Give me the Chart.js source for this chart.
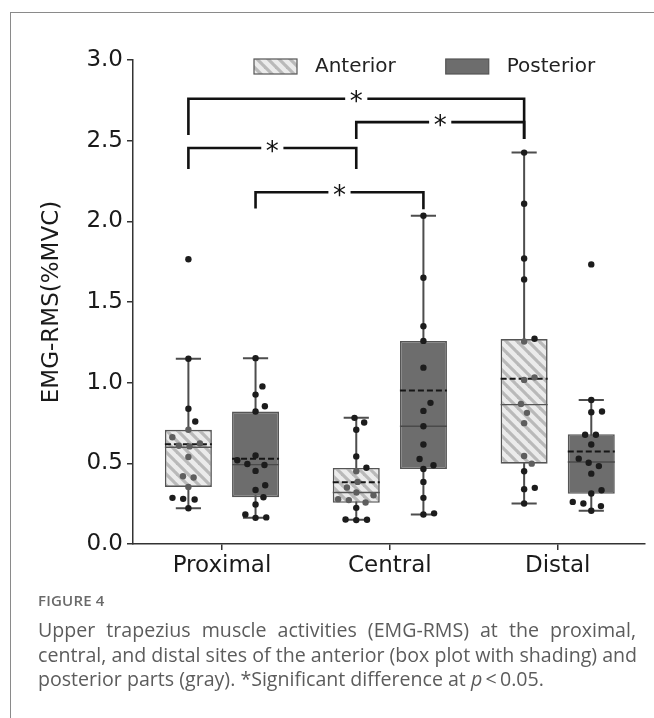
<!DOCTYPE html>
<html>
<head>
<meta charset="utf-8">
<script src="https://cdn.jsdelivr.net/npm/chart.js@4.4.0/dist/chart.umd.min.js"></script>
<style>
  body { margin: 0; width: 654px; height: 718px; overflow: hidden; position: relative; background: #fff; }
  #frame { position: absolute; left: 10px; top: 12px; width: 660px; height: 720px;
           border-left: 1.5px solid #8a8a8a; border-top: 1.5px solid #8a8a8a; }
  #wrap { position: absolute; left: 0; top: 0; width: 654px; height: 592px; }
  .cap { position: absolute; left: 38px; width: 598px; font-family: "Open Sans", sans-serif; color: #5c5c5c; }
  #figlabel { top: 590px; font-size: 15px; font-weight: 600; color: #6a6a6a; letter-spacing: 0.2px; }
  #caption { top: 618px; font-size: 19.6px; line-height: 24.5px; }
  #caption div { white-space: nowrap; }
  .j { text-align: justify; text-align-last: justify; }
</style>
</head>
<body>
<div id="frame"></div>
<div id="wrap"><canvas id="myChart"></canvas></div>
<div class="cap" id="figlabel">FIGURE 4</div>
<div class="cap" id="caption">
  <div class="j">Upper trapezius muscle activities (EMG-RMS) at the proximal,</div>
  <div class="j">central, and distal sites of the anterior (box plot with shading) and</div>
  <div>posterior parts (gray). *Significant difference at <i>p</i>&thinsp;&lt;&thinsp;0.05.</div>
</div>
<script>
  var categories = ['Proximal', 'Central', 'Distal'];
  var seriesNames = ['Anterior', 'Posterior'];
  var yTicks = [0.0, 0.5, 1.0, 1.5, 2.0, 2.5, 3.0];

  // box statistics per site (Proximal, Central, Distal)
  var antQ1 = [0.354, 0.255, 0.498];
  var antMedian = [0.600, 0.319, 0.864];
  var antQ3 = [0.708, 0.471, 1.270];
  var antMean = [0.619, 0.383, 1.025];
  var antLow = [0.222, 0.150, 0.251];
  var antHigh = [1.148, 0.782, 2.426];

  var postQ1 = [0.290, 0.465, 0.311];
  var postMedian = [0.492, 0.730, 0.508];
  var postQ3 = [0.821, 1.259, 0.681];
  var postMean = [0.529, 0.951, 0.574];
  var postLow = [0.162, 0.183, 0.206];
  var postHigh = [1.152, 2.035, 0.893];

  // individual subjects (EMG-RMS, %MVC)
  var antProximal = [1.765, 1.148, 0.838, 0.759, 0.708, 0.662, 0.623, 0.609, 0.605, 0.539, 0.420, 0.412, 0.354, 0.286, 0.280, 0.276, 0.222];
  var antCentral = [0.782, 0.753, 0.708, 0.543, 0.473, 0.451, 0.385, 0.350, 0.319, 0.302, 0.278, 0.272, 0.257, 0.224, 0.152, 0.150, 0.148];
  var antDistal = [2.426, 2.109, 1.770, 1.640, 1.272, 1.255, 1.033, 1.017, 0.868, 0.813, 0.749, 0.545, 0.498, 0.451, 0.348, 0.340, 0.251];
  var postProximal = [1.152, 0.977, 0.926, 0.854, 0.821, 0.549, 0.519, 0.496, 0.490, 0.453, 0.364, 0.335, 0.290, 0.245, 0.183, 0.165, 0.162];
  var postCentral = [2.035, 1.650, 1.350, 1.259, 1.093, 0.875, 0.825, 0.730, 0.617, 0.527, 0.488, 0.465, 0.385, 0.286, 0.190, 0.183];
  var postDistal = [1.733, 0.893, 0.821, 0.817, 0.677, 0.677, 0.617, 0.529, 0.504, 0.483, 0.436, 0.333, 0.313, 0.261, 0.251, 0.235, 0.206];

  // significance brackets: site/part at each end, bar level and where each leg stops
  var sigSiteA = [0, 1, 0, 0];
  var sigPartA = [0, 0, 0, 1];
  var sigSiteB = [2, 2, 1, 1];
  var sigPartB = [0, 0, 0, 1];
  var sigLevel = [2.76, 2.615, 2.455, 2.18];
  var sigEndA = [2.535, 2.51, 2.325, 2.08];
  var sigEndB = [2.51, 2.51, 2.325, 2.075];

  Chart.defaults.font.family = '"DejaVu Sans", sans-serif';
  Chart.defaults.color = '#222';

  var catPct = 0.8, barPct = 0.7;
  var shift = catPct / 4;               // centre of each box from its site
  var halfBox = catPct / 2 * barPct / 2;
  var capHalf = 0.075;

  function boxX(site, part) { return site + (part === 0 ? -shift : shift); }

  function whiskers(part, lo, hi) {
    var pts = [];
    categories.forEach(function (c, i) {
      var x = boxX(i, part);
      pts.push({x: x, y: lo[i]}, {x: x, y: hi[i]}, {x: x, y: null});
      pts.push({x: x - capHalf, y: lo[i]}, {x: x + capHalf, y: lo[i]}, {x: x, y: null});
      pts.push({x: x - capHalf, y: hi[i]}, {x: x + capHalf, y: hi[i]}, {x: x, y: null});
    });
    return pts;
  }

  function across(part, vals) {
    var pts = [];
    categories.forEach(function (c, i) {
      var x = boxX(i, part);
      pts.push({x: x - halfBox, y: vals[i]}, {x: x + halfBox, y: vals[i]}, {x: x, y: null});
    });
    return pts;
  }

  // beeswarm style dodge so points do not overlap
  function swarm(vals, gap, aspect) {
    var order = vals.map(function (v, i) { return i; }).sort(function (a, b) { return vals[a] - vals[b]; });
    var placed = [], offs = [];
    order.forEach(function (i) {
      var y = vals[i] * aspect;
      var cands = [0];
      placed.forEach(function (p) {
        var dy = Math.abs(y - p.y);
        if (dy < gap) {
          var dx = Math.sqrt(gap * gap - dy * dy);
          cands.push(p.x + dx, p.x - dx);
        }
      });
      cands.sort(function (a, b) { return Math.abs(a) - Math.abs(b); });
      var ok = cands.find(function (c) {
        return placed.every(function (p) { return (p.x - c) * (p.x - c) + (p.y - y) * (p.y - y) >= gap * gap - 1e-9; });
      });
      if (ok === undefined) ok = 0;
      offs[i] = ok;
      placed.push({x: ok, y: y});
    });
    return offs;
  }

  function points(part, groups) {
    var pts = [];
    groups.forEach(function (vals, i) {
      var offs = swarm(vals, 0.064, 0.964);
      vals.forEach(function (v, k) { pts.push({x: boxX(i, part) + offs[k], y: v, site: i}); });
    });
    return pts;
  }

  function brackets() {
    var sets = [];
    sigLevel.forEach(function (lv, k) {
      var xa = boxX(sigSiteA[k], sigPartA[k]);
      var xb = boxX(sigSiteB[k], sigPartB[k]);
      var mid = (xa + xb) / 2;
      sets.push({
        type: 'line',
        data: [{x: xa, y: sigEndA[k]}, {x: xa, y: lv}, {x: mid - 0.066, y: lv}, {x: mid, y: null},
               {x: mid + 0.066, y: lv}, {x: xb, y: lv}, {x: xb, y: sigEndB[k]}],
        borderColor: '#111', borderWidth: 2.6, pointRadius: 0, spanGaps: false,
        order: 0, star: {x: mid, y: lv}
      });
    });
    return sets;
  }

  // diagonal hatching for the anterior boxes
  var tile = document.createElement('canvas');
  tile.width = 11; tile.height = 11;
  var tctx = tile.getContext('2d');
  tctx.fillStyle = '#ebebeb';
  tctx.fillRect(0, 0, 11, 11);
  tctx.strokeStyle = '#b9b9b9';
  tctx.lineWidth = 3.2;
  for (var k = -1; k <= 1; k++) {
    tctx.beginPath();
    tctx.moveTo(k * 11 - 2, -2);
    tctx.lineTo(k * 11 + 13, 13);
    tctx.stroke();
  }
  var hatch = tctx.createPattern(tile, 'repeat');

  var antBoxFill = hatch, postBoxFill = '#6d6d6d', boxEdge = '#555';

  var starPlugin = {
    id: 'stars',
    afterDatasetsDraw: function (chart) {
      var ctx = chart.ctx, xs = chart.scales.x, ys = chart.scales.y;
      ctx.save();
      ctx.font = '26px "DejaVu Sans"';
      ctx.fillStyle = '#111';
      ctx.textAlign = 'center';
      ctx.textBaseline = 'middle';
      chart.data.datasets.forEach(function (ds) {
        if (!ds.star) return;
        ctx.fillText('*', xs.getPixelForValue(ds.star.x), ys.getPixelForValue(ds.star.y) + 5);
      });
      ctx.restore();
    }
  };

  var legendPlugin = {
    id: 'boxLegend',
    afterDraw: function (chart) {
      var ctx = chart.ctx, area = chart.chartArea;
      var x = area.left + 121, y = area.top - 1;
      ctx.save();
      ctx.font = '20px "DejaVu Sans"';
      ctx.textBaseline = 'middle';
      ctx.fillStyle = '#222';
      chart.data.datasets.forEach(function (ds) {
        if (!ds.isBox) return;
        ctx.fillStyle = ds.backgroundColor;
        ctx.fillRect(x, y, 43, 15);
        ctx.strokeStyle = ds.borderColor;
        ctx.lineWidth = 1.2;
        ctx.strokeRect(x, y, 43, 15);
        ctx.fillStyle = '#222';
        ctx.fillText(ds.label, x + 61, y + 8);
        x += 61 + ctx.measureText(ds.label).width + 50;
      });
      ctx.restore();
    }
  };

  function dotColor(part) {
    return function (c) {
      var p = c.raw;
      if (!p) return '#1c1c1c';
      if (part === 0 && p.y >= antQ1[p.site] && p.y <= antQ3[p.site]) return '#5e5e5e';
      return '#1c1c1c';
    };
  }

  var datasets = [
    {
      label: seriesNames[0], isBox: true, order: 3,
      data: categories.map(function (c, i) { return {x: i, y: [antQ1[i], antQ3[i]]}; }),
      backgroundColor: antBoxFill, borderColor: boxEdge, borderWidth: 1.6, borderSkipped: false,
      categoryPercentage: catPct, barPercentage: barPct
    },
    {
      label: seriesNames[1], isBox: true, order: 3,
      data: categories.map(function (c, i) { return {x: i, y: [postQ1[i], postQ3[i]]}; }),
      backgroundColor: postBoxFill, borderColor: boxEdge, borderWidth: 1.6, borderSkipped: false,
      categoryPercentage: catPct, barPercentage: barPct
    },
    { type: 'line', order: 4, data: whiskers(0, antLow, antHigh), borderColor: '#4d4d4d', borderWidth: 2, pointRadius: 0, spanGaps: false },
    { type: 'line', order: 4, data: whiskers(1, postLow, postHigh), borderColor: '#4d4d4d', borderWidth: 2, pointRadius: 0, spanGaps: false },
    { type: 'line', order: 2, data: across(0, antMedian), borderColor: '#555', borderWidth: 1.4, pointRadius: 0, spanGaps: false },
    { type: 'line', order: 2, data: across(1, postMedian), borderColor: '#4a4a4a', borderWidth: 1.4, pointRadius: 0, spanGaps: false },
    { type: 'line', order: 2, data: across(0, antMean), borderColor: '#161616', borderWidth: 2, borderDash: [6, 3], pointRadius: 0, spanGaps: false },
    { type: 'line', order: 2, data: across(1, postMean), borderColor: '#161616', borderWidth: 2, borderDash: [6, 3], pointRadius: 0, spanGaps: false },
    { type: 'scatter', order: 1, data: points(0, [antProximal, antCentral, antDistal]),
      pointRadius: 3.2, pointBorderWidth: 0, pointBackgroundColor: dotColor(0), pointBorderColor: dotColor(0) },
    { type: 'scatter', order: 1, data: points(1, [postProximal, postCentral, postDistal]),
      pointRadius: 3.2, pointBorderWidth: 0, pointBackgroundColor: dotColor(1), pointBorderColor: dotColor(1) }
  ].concat(brackets());

  new Chart('myChart', {
    type: 'bar',
    data: { datasets: datasets },
    options: {
      responsive: true,
      maintainAspectRatio: false,
      animation: false,
      layout: { padding: { left: 0, right: 9, top: 60, bottom: 0 } },
      plugins: { legend: { display: false }, tooltip: { enabled: false } },
      scales: {
        x: {
          type: 'linear', min: -0.53, max: 2.52, offset: false,
          afterBuildTicks: function (s) { s.ticks = categories.map(function (c, i) { return {value: i}; }); },
          afterFit: function (s) { s.height = 48; },
          ticks: { font: { size: 23 }, color: '#1a1a1a', padding: 2,
                   callback: function (v) { return categories[v]; } },
          grid: { drawOnChartArea: false, drawTicks: true, tickLength: 6, color: '#333', lineWidth: 1.5, offset: false },
          border: { display: true, color: '#333', width: 1.5 }
        },
        y: {
          type: 'linear', min: 0, max: 3,
          afterBuildTicks: function (s) { s.ticks = yTicks.map(function (v) { return {value: v}; }); },
          afterFit: function (s) { s.width = 133; },
          ticks: { font: { size: 23 }, color: '#1a1a1a', padding: 4,
                   callback: function (v) { return Number(v).toFixed(1); } },
          grid: { drawOnChartArea: false, drawTicks: true, tickLength: 6, color: '#333', lineWidth: 1.5 },
          border: { display: true, color: '#333', width: 1.5 },
          title: { display: true, text: 'EMG-RMS(%MVC)', font: { size: 23 }, color: '#1a1a1a', padding: { top: 38, bottom: 0 } }
        }
      }
    },
    plugins: [starPlugin, legendPlugin]
  });
</script>
</body>
</html>
